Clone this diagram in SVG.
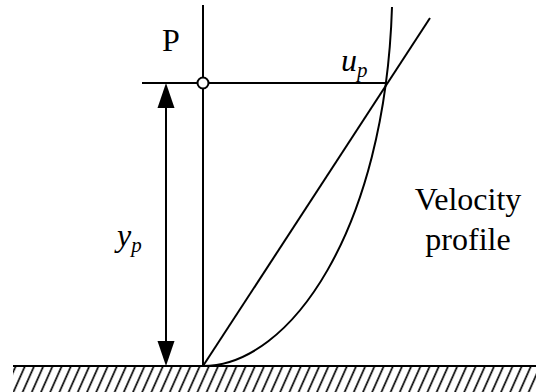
<svg xmlns="http://www.w3.org/2000/svg" width="536" height="392" viewBox="0 0 536 392">
<style>
.ln{stroke:#000;stroke-width:2;fill:none}
.ah{fill:#000;stroke:none}
</style>
<defs>
<pattern id="hatch" patternUnits="userSpaceOnUse" x="0" y="0" width="9.2" height="400" patternTransform="skewX(-24)">
<line x1="4" y1="0" x2="4" y2="400" stroke="#000" stroke-width="1.8"/>
</pattern>
</defs>
<rect width="536" height="392" fill="#fff"/>
<g id="wall">
<rect x="13" y="367" width="523" height="25" fill="url(#hatch)"/>
<line class="ln" x1="13" y1="366" x2="536" y2="366"/>
</g>
<g id="connectors">
<line class="ln" x1="203" y1="5" x2="203" y2="366"/>
<line class="ln" x1="142" y1="83" x2="388" y2="83"/>
<line class="ln" x1="203" y1="366" x2="430" y2="18"/>
<path class="ln" d="M203,366 C290,366 385,230 392,7"/>
<line class="ln" x1="166" y1="100" x2="166" y2="350"/>
<polygon class="ah" points="166,83 157.5,108 174.5,108"/>
<polygon class="ah" points="166,366 157.5,341 174.5,341"/>
</g>
<g id="pointP">
<circle cx="203" cy="83" r="5.5" fill="#fff" stroke="#000" stroke-width="2"/>
<text x="162" y="51" font-family="Times New Roman" font-size="32">P</text>
</g>
<g id="labelUp">
<text x="341" y="71" font-family="Times New Roman" font-size="32" font-style="italic">u<tspan font-size="21" dy="6">p</tspan></text>
</g>
<g id="labelYp">
<text x="117" y="246" font-family="Times New Roman" font-size="32" font-style="italic">y<tspan font-size="21" dy="6">p</tspan></text>
</g>
<g id="labelProfile">
<text x="468" y="210" text-anchor="middle" font-family="Times New Roman" font-size="32">Velocity</text>
<text x="468" y="250" text-anchor="middle" font-family="Times New Roman" font-size="32">profile</text>
</g>
</svg>
